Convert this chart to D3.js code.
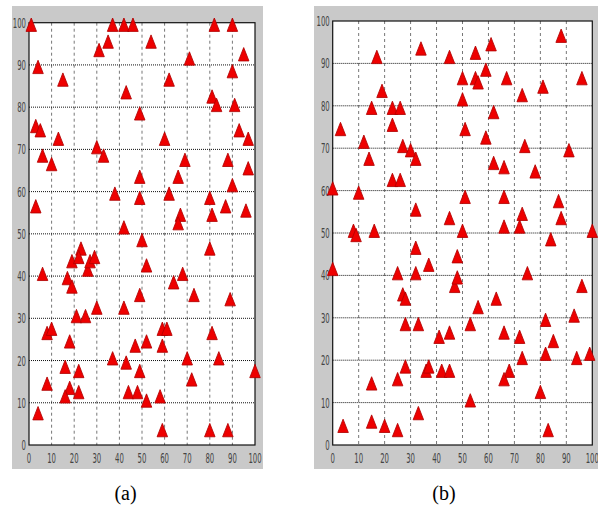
<!DOCTYPE html>
<html>
<head>
<meta charset="utf-8">
<script src="https://cdn.jsdelivr.net/npm/d3@7"></script>
<style>
  body { margin: 0; background: #fff; }
  svg { display: block; }
</style>
</head>
<body>
<svg id="chart" width="598" height="509"></svg>
<script>
/** data: panel (a) and panel (b) **/
var ticks = [0, 10, 20, 30, 40, 50, 60, 70, 80, 90, 100];

var panelA_x = [1, 4, 15, 31, 35, 37, 42, 46, 43, 49, 3, 5, 6, 13, 10, 30, 33, 49, 38, 49, 3, 42, 50, 54,
    71, 82, 90, 95, 90, 62, 81, 83, 91, 93, 97, 60, 69, 88, 97, 66, 90, 62, 80, 67, 66, 81, 87, 96, 80,
    23, 6, 19, 22, 26, 27, 29, 17, 19, 49, 30, 42, 21, 25, 8, 10, 18, 47, 52, 37, 16, 43, 22, 49, 8, 18,
    16, 22, 44, 48, 52, 4, 52, 68, 64, 73, 89, 59, 61, 81, 59, 70, 84, 100, 72, 58, 59, 80, 88];
var panelA_y = [99, 89, 86, 93, 95, 99, 99, 99, 83, 78, 75, 74, 68, 72, 66, 70, 68, 63, 59, 58, 56, 51, 48, 95,
    91, 99, 99, 92, 88, 86, 82, 80, 80, 74, 72, 72, 67, 67, 65, 63, 61, 59, 58, 54, 52, 54, 56, 55, 46,
    46, 40, 43, 44, 41, 43, 44, 39, 37, 35, 32, 32, 30, 30, 26, 27, 24, 23, 24, 20, 18, 19, 17, 17, 14, 13,
    11, 12, 12, 12, 10, 7, 42, 40, 38, 35, 34, 27, 27, 26, 23, 20, 20, 17, 15, 11, 3, 3, 3];

var panelB_x = [34, 17, 19, 15, 23, 26, 23, 3, 12, 27, 30, 32, 14, 23, 26, 0, 10, 32, 45, 8, 9, 16,
    45, 55, 61, 88, 59, 50, 55, 56, 67, 96, 81, 73, 50, 62, 51, 59, 74, 91, 62, 66, 78, 51, 66, 87, 73,
    88, 50, 66, 72, 100, 84, 32, 0, 37, 25, 32, 27, 28, 48, 47, 48, 28, 33, 41, 45, 28, 36, 37, 42, 45,
    25, 15, 33, 4, 15, 20, 25, 75, 96, 63, 56, 53, 82, 93, 66, 72, 85, 82, 73, 94, 99, 68, 66, 80, 53, 83];
var panelB_y = [93, 91, 83, 79, 79, 79, 75, 74, 71, 70, 69, 67, 67, 62, 62, 60, 59, 55, 53, 50, 49, 50,
    91, 92, 94, 96, 88, 86, 86, 85, 86, 86, 84, 82, 81, 78, 74, 72, 70, 69, 66, 65, 64, 58, 58, 57, 54,
    53, 50, 51, 51, 50, 48, 46, 41, 42, 40, 40, 35, 34, 44, 37, 39, 28, 28, 25, 26, 18, 17, 18, 17, 17,
    15, 14, 7, 4, 5, 4, 3, 40, 37, 34, 32, 28, 29, 30, 26, 25, 24, 21, 20, 20, 21, 17, 15, 12, 10, 3];

var panels = [
    {xs: panelA_x, ys: panelA_y, label: "(a)", bg: [12, 6, 251, 463], plot: [29, 22.7, 255, 445]},
    {xs: panelB_x, ys: panelB_y, label: "(b)", bg: [314, 6, 284, 463], plot: [332.7, 21, 592.3, 445]}
];

var svg = d3.select("#chart");

/** draw one matlab-like scatter panel **/
function drawPanel(p) {
    var g = svg.append("g");

    g.append("rect")
        .attr("x", p.bg[0]).attr("y", p.bg[1])
        .attr("width", p.bg[2]).attr("height", p.bg[3])
        .attr("fill", "#c9c9c9");

    var x = d3.scaleLinear().domain([0, 100]).range([p.plot[0], p.plot[2]]);
    var y = d3.scaleLinear().domain([0, 100]).range([p.plot[3], p.plot[1]]);

    g.append("rect")
        .attr("x", x(0)).attr("y", y(100))
        .attr("width", x(100) - x(0)).attr("height", y(0) - y(100))
        .attr("fill", "#fff");

    // vertical dashed grid
    g.selectAll(".vgrid")
        .data(ticks.slice(1, -1))
        .enter().append("line")
        .attr("x1", function (d) { return x(d); })
        .attr("x2", function (d) { return x(d); })
        .attr("y1", y(100)).attr("y2", y(0))
        .attr("stroke", "#777")
        .attr("stroke-width", 1)
        .attr("stroke-dasharray", "3,3");

    // horizontal dotted grid
    g.selectAll(".hgrid")
        .data(ticks.slice(1, -1))
        .enter().append("line")
        .attr("y1", function (d) { return y(d); })
        .attr("y2", function (d) { return y(d); })
        .attr("x1", x(0)).attr("x2", x(100))
        .attr("stroke", "#111")
        .attr("stroke-width", 1)
        .attr("stroke-dasharray", "1,1");

    g.append("rect")
        .attr("x", x(0)).attr("y", y(100))
        .attr("width", x(100) - x(0)).attr("height", y(0) - y(100))
        .attr("fill", "none")
        .attr("stroke", "#111")
        .attr("stroke-width", 1.2);

    // tick labels (narrow matlab font)
    g.selectAll(".ylab")
        .data(ticks)
        .enter().append("text")
        .attr("transform", function (d) { return "translate(" + (x(0) - 3) + "," + (y(d) + 5) + ") scale(0.55,1.05)"; })
        .attr("text-anchor", "end")
        .style("font-family", "'Liberation Sans Narrow', 'DejaVu Sans Condensed', sans-serif")
        .style("font-size", "14px")
        .style("fill", "#444")
        .text(function (d) { return d; });

    g.selectAll(".xlab")
        .data(ticks)
        .enter().append("text")
        .attr("transform", function (d) { return "translate(" + x(d) + "," + (y(0) + 18) + ") scale(0.55,1.05)"; })
        .attr("text-anchor", "middle")
        .style("font-family", "'Liberation Sans Narrow', 'DejaVu Sans Condensed', sans-serif")
        .style("font-size", "14px")
        .style("fill", "#444")
        .text(function (d) { return d; });

    // red triangle markers
    var tri = d3.symbol().type(d3.symbolTriangle).size(66);
    g.selectAll(".pt")
        .data(p.xs.map(function (v, i) { return [v, p.ys[i]]; }))
        .enter().append("path")
        .attr("d", tri)
        .attr("transform", function (d) { return "translate(" + x(d[0]) + "," + y(d[1]) + ") scale(0.85,1.25)"; })
        .attr("fill", "#ee0000")
        .attr("stroke", "#b00000")
        .attr("stroke-width", 0.8);

    svg.append("text")
        .attr("x", (p.bg[0] + (p.bg[0] + p.bg[2])) / 2 - 12)
        .attr("y", 500)
        .attr("text-anchor", "middle")
        .style("font-family", "'Liberation Serif', 'Times New Roman', serif")
        .style("font-size", "20px")
        .style("fill", "#000")
        .text(p.label);
}

panels.forEach(drawPanel);
</script>
</body>
</html>
